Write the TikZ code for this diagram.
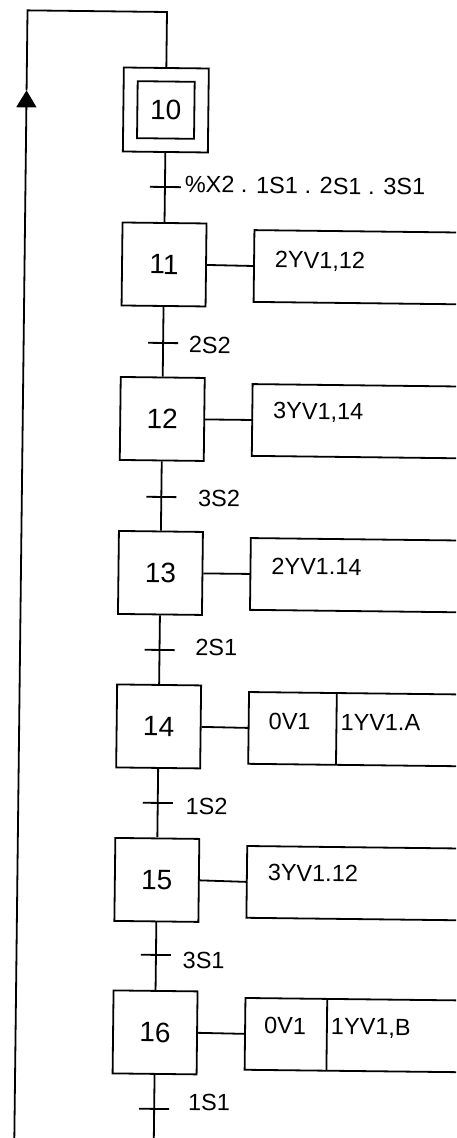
\documentclass[tikz,border=0pt]{standalone}
\usepackage{fontspec}
\setmainfont{Liberation Sans}
\usetikzlibrary{arrows.meta}
\begin{document}
\begin{tikzpicture}[x=1pt,y=-1pt,line width=1.8pt,
  stepbox/.style={draw, minimum width=84pt, minimum height=83pt, inner sep=0pt,
    font=\fontsize{28}{30}\selectfont, transform shape},
  actpart/.style={minimum height=70pt, inner sep=0pt, anchor=west, transform shape},
  acttext/.style={anchor=base west, inner sep=0pt, font=\fontsize{23.5}{25}\selectfont, transform shape},
  acttextc/.style={anchor=base, inner sep=0pt, font=\fontsize{23.5}{25}\selectfont, transform shape},
  trlabel/.style={anchor=west, inner sep=0pt, font=\fontsize{23.5}{25}\selectfont, transform shape},
  arrowtip/.style={-{Triangle[width=20pt,length=17pt]}}
]
\path[use as bounding box] (0,0) rectangle (456,1138);
\clip (0,0) rectangle (456,1138);
\begin{scope}[rotate around={-0.67:(167,12)}]
  % steps
  \node[stepbox, minimum width=85pt, minimum height=84pt] (s10) at (167,110) {};
  \node[draw, minimum width=57pt, minimum height=57pt, inner sep=0pt,
        font=\fontsize{28}{30}\selectfont, transform shape] (s10in) at (167,110) {10};
  \node[stepbox] (s11) at (167,264.5) {11};
  \node[stepbox] (s12) at (167,419) {12};
  \node[stepbox] (s13) at (167,573) {13};
  \node[stepbox] (s14) at (167,726.5) {14};
  \node[stepbox] (s15) at (167,880) {15};
  \node[stepbox] (s16) at (167,1032.5) {16};

  % loop
  \coordinate (lb) at (27.5,1160);
  \coordinate (la) at (27.5,92);
  \coordinate (lt) at (27.5,12);
  \coordinate (rt) at (167,12);
  \coordinate (mb) at (167,1160);
  \draw[arrowtip] (lb) -- (la);
  \draw (la) -- (lt) -- (rt) -- (s10.north);

  % main axis
  \draw (s10.south) -- (s11.north);
  \draw (s11.south) -- (s12.north);
  \draw (s12.south) -- (s13.north);
  \draw (s13.south) -- (s14.north);
  \draw (s14.south) -- (s15.north);
  \draw (s15.south) -- (s16.north);
  \draw (s16.south) -- (mb);

  % transitions
  \draw (152,187) -- (183,187);
  \draw (152,343) -- (182,343);
  \draw (152,497) -- (182,497);
  \draw (152,650) -- (182,650);
  \draw (152,803) -- (182,803);
  \draw (152,955) -- (182,955);
  \draw (152,1109) -- (182,1109);
  \node[trlabel] (r1) at (186,184) {\%X2 . 1S1 . 2S1 . 3S1};
  \node[trlabel] (r2) at (192,344.5) {2S2};
  \node[trlabel] (r3) at (203,498) {3S2};
  \node[trlabel] (r4) at (202,647) {2S1};
  \node[trlabel] (r5) at (194,806) {1S2};
  \node[trlabel] (r6) at (193,960) {3S1};
  \node[trlabel] (r7) at (200,1102) {1S1};

  % actions
  \node[actpart, minimum width=230pt] (a11) at (257,265) {};
  \node[actpart, minimum width=230pt] (a12) at (257,419) {};
  \node[actpart, minimum width=230pt] (a13) at (257,573) {};
  \node[actpart, minimum width=86pt] (a14) at (257,727) {};
  \node[actpart, minimum width=150pt] (a14b) at (a14.east) {};
  \node[actpart, minimum width=230pt] (a15) at (257,881) {};
  \node[actpart, minimum width=80pt] (a16) at (257,1033) {};
  \node[actpart, minimum width=150pt] (a16b) at (a16.east) {};

  \foreach \a in {a11,a12,a13,a15}{
    \draw (\a.north east) -- (\a.north west) -- (\a.south west) -- (\a.south east);
  }
  \foreach \a/\b in {a14/a14b,a16/a16b}{
    \draw (\b.north east) -- (\a.north west) -- (\a.south west) -- (\b.south east);
    \draw (\a.north east) -- (\a.south east);
  }

  \draw (s11.east) -- (a11.west);
  \draw (s12.east) -- (a12.west);
  \draw (s13.east) -- (a13.west);
  \draw (s14.east) -- (a14.west);
  \draw (s15.east) -- (a15.west);
  \draw (s16.east) -- (a16.west);

  \node[acttext] (x11) at (277,266.5) {2YV1,12};
  \node[acttext] (x12) at (277,417.5) {3YV1,14};
  \node[acttext] (x13) at (277,573) {2YV1.14};
  \node[acttextc] (x14a) at (298,728) {0V1};
  \node[acttext] (x14b) at (348,728) {1YV1.A};
  \node[acttext] (x15) at (277,879.5) {3YV1.12};
  \node[acttextc] (x16a) at (297,1032.5) {0V1};
  \node[acttext] (x16b) at (342,1032.5) {1YV1,B};
\end{scope}
\end{tikzpicture}
\end{document}
